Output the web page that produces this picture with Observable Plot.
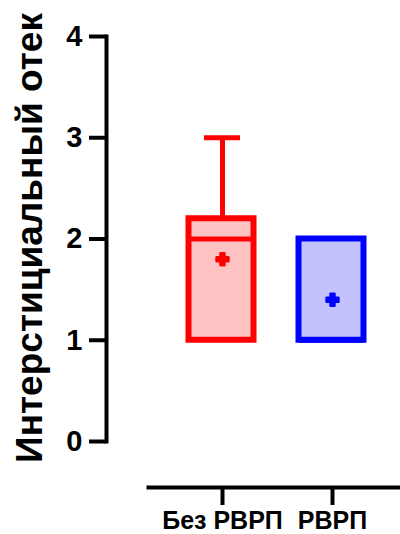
<!DOCTYPE html>
<html>
<head>
<meta charset="utf-8">
<script src="https://cdn.jsdelivr.net/npm/d3@7"></script>
<script src="https://cdn.jsdelivr.net/npm/@observablehq/plot@0.6"></script>
<style>
  html, body { margin: 0; padding: 0; background: #fff; }
  #chart svg { display: block; overflow: visible; }
</style>
</head>
<body>
<div id="chart"></div>
<script>
const groups = ["Без РВРП", "РВРП"];
const q1 = [1, 1];
const median = [2, 1];
const q3 = [2.2, 2];
const whiskerMax = [3, 2];
const means = [1.8, 1.4];
const strokeColors = ["#ff0000", "#0000ff"];
const fillColors = ["#ffc2c2", "#c2c2ff"];
const yTicks = [0, 1, 2, 3, 4];
const yLabel = "Интерстициальный отек";

const rows = groups.map((g, i) => ({
  group: g, q1: q1[i], median: median[i], q3: q3[i], max: whiskerMax[i],
  mean: means[i], stroke: strokeColors[i], fill: fillColors[i]
}));
const whiskers = rows.filter(d => d.max > d.q3);

const chart = Plot.plot({
  width: 400,
  height: 534,
  marginTop: 36,
  marginLeft: 106,
  marginRight: 0,
  marginBottom: 47,
  style: { fontFamily: "'Liberation Sans', Arial, sans-serif", fontWeight: "bold", color: "#000", background: "#fff" },
  x: { domain: groups, range: [167, 387], padding: 0, label: null },
  y: { domain: [0, 4], range: [441, 36], label: null },
  marks: [
    Plot.ruleX(whiskers, { x: "group", y1: "q3", y2: "max", stroke: d => d.stroke, strokeWidth: 5 }),
    Plot.tickY(whiskers, { x: "group", y: "max", stroke: d => d.stroke, strokeWidth: 5, inset: 37 }),
    Plot.barY(rows, { x: "group", y1: "q1", y2: "q3", fill: d => d.fill, stroke: d => d.stroke, strokeWidth: 6, insetLeft: 21.5, insetRight: 23.5 }),
    Plot.tickY(rows, { x: "group", y: "median", stroke: d => d.stroke, strokeWidth: 5, insetLeft: 21.5, insetRight: 23.5 }),
    Plot.dot(rows, { x: "group", y: "mean", symbol: "cross", r: 5, fill: d => d.stroke, stroke: d => d.stroke, strokeWidth: 2.5, strokeLinejoin: "round" }),
    Plot.frame({ anchor: "left", insetBottom: 46, stroke: "#000", strokeWidth: 4, strokeLinecap: "square" }),
    Plot.frame({ anchor: "bottom", insetLeft: 42, stroke: "#000", strokeWidth: 4 }),
    Plot.axisY({ ticks: yTicks, tickFormat: d => String(d), tickSize: 17, tickPadding: 7, strokeWidth: 4, fontSize: 29, fontWeight: "bold", label: null }),
    Plot.axisX({ tickSize: 18, tickPadding: 6, strokeWidth: 4, fontSize: 25, fontWeight: "bold", label: null }),
    Plot.text([yLabel], { text: d => d, frameAnchor: "left", textAnchor: "middle", dx: -76, dy: -24, rotate: -90, fontSize: 37, fontWeight: "bold", fill: "#000" })
  ]
});
document.getElementById("chart").appendChild(chart);
</script>
</body>
</html>
